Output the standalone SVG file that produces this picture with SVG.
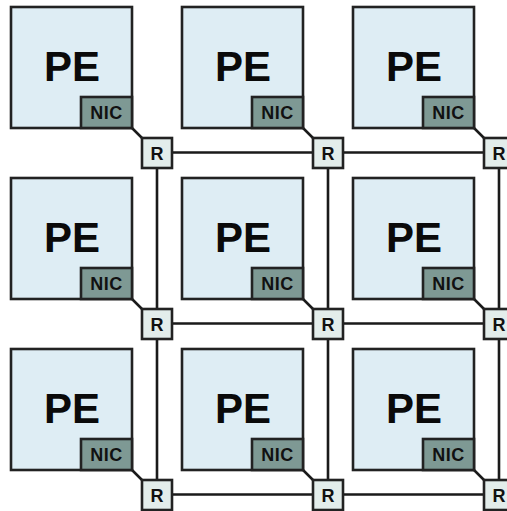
<svg xmlns="http://www.w3.org/2000/svg" width="507" height="511" viewBox="0 0 507 511">
<defs>
<style>
.pe{fill:#deedf4;stroke:#222;stroke-width:2.6}
.nic{fill:#7e9994;stroke:#222;stroke-width:2.6}
.r{fill:#e3edeb;stroke:#222;stroke-width:2.6}
.ln{stroke:#1a1a1a;stroke-width:2.6;fill:none}
.tpe{font-family:"Liberation Sans",Arial,sans-serif;font-weight:bold;font-size:42px;fill:#0a0a0a;text-anchor:middle}
.tnic{font-family:"Liberation Sans",Arial,sans-serif;font-weight:bold;font-size:18px;fill:#111;text-anchor:middle;letter-spacing:0.5px}
.tr{font-family:"Liberation Sans",Arial,sans-serif;font-weight:bold;font-size:18px;fill:#111;text-anchor:middle}
</style>
<g id="tile">
<rect class="pe" x="11" y="7" width="121" height="121"/>
<rect class="nic" x="81" y="97" width="51" height="31"/>
<text class="tpe" x="72" y="81">PE</text>
<text class="tnic" x="106.5" y="119">NIC</text>
</g>
<g id="router">
<rect class="r" x="142" y="138" width="30" height="30"/>
<text class="tr" x="157" y="159.5">R</text>
</g>
</defs>
<g id="connectors">
<path class="ln" d="M172 152.5H313 M343 152.5H484 M514 152.5H520"/>
<path class="ln" d="M172 323.5H313 M343 323.5H484 M514 323.5H520"/>
<path class="ln" d="M172 494.5H313 M343 494.5H484 M514 494.5H520"/>
<path class="ln" d="M157 168V309 M157 339V480"/>
<path class="ln" d="M328 168V309 M328 339V480"/>
<path class="ln" d="M499 168V309 M499 339V480"/>
<path class="ln" d="M132 128L142 138 M303 128L313 138 M474 128L484 138"/>
<path class="ln" d="M132 299L142 309 M303 299L313 309 M474 299L484 309"/>
<path class="ln" d="M132 470L142 480 M303 470L313 480 M474 470L484 480"/>
</g>
<g id="node-pe-1-1"><use href="#tile"/></g>
<g id="node-pe-1-2"><use href="#tile" x="171"/></g>
<g id="node-pe-1-3"><use href="#tile" x="342"/></g>
<g id="node-pe-2-1"><use href="#tile" y="171"/></g>
<g id="node-pe-2-2"><use href="#tile" x="171" y="171"/></g>
<g id="node-pe-2-3"><use href="#tile" x="342" y="171"/></g>
<g id="node-pe-3-1"><use href="#tile" y="342"/></g>
<g id="node-pe-3-2"><use href="#tile" x="171" y="342"/></g>
<g id="node-pe-3-3"><use href="#tile" x="342" y="342"/></g>
<g id="node-r-1-1"><use href="#router"/></g>
<g id="node-r-1-2"><use href="#router" x="171"/></g>
<g id="node-r-1-3"><use href="#router" x="342"/></g>
<g id="node-r-2-1"><use href="#router" y="171"/></g>
<g id="node-r-2-2"><use href="#router" x="171" y="171"/></g>
<g id="node-r-2-3"><use href="#router" x="342" y="171"/></g>
<g id="node-r-3-1"><use href="#router" y="342"/></g>
<g id="node-r-3-2"><use href="#router" x="171" y="342"/></g>
<g id="node-r-3-3"><use href="#router" x="342" y="342"/></g>
</svg>
